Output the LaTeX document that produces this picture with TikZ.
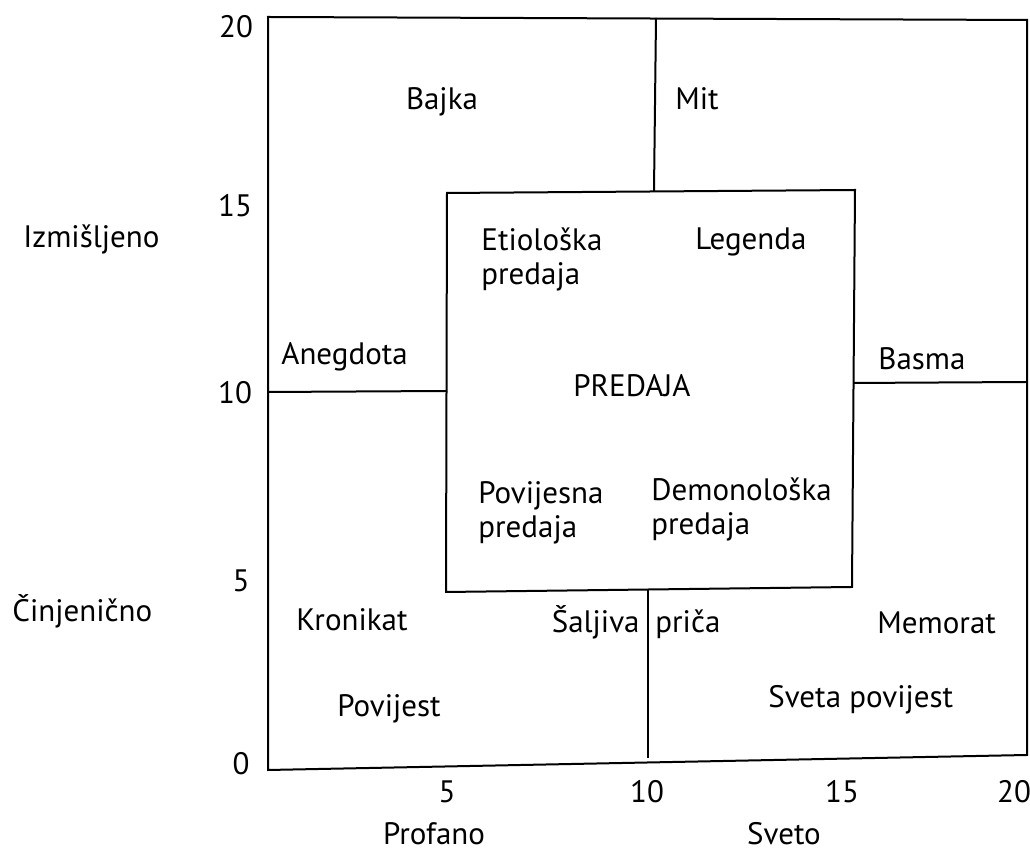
\documentclass[tikz,border=0pt]{standalone}
\usepackage{fontspec}
\setmainfont{PT Sans}
\tikzset{
  frame/.style={line width=1pt, line join=miter},
  lbl/.style={anchor=base west, inner sep=0pt, font=\fontsize{15.5}{16}\selectfont},
  num/.style={anchor=base, inner sep=0pt, font=\fontsize{15.5}{16}\selectfont}
}
\begin{document}
\begin{tikzpicture}[x=0.5pt, y=-0.5pt]
  \useasboundingbox (0,0) rectangle (1030,854);

  % outer frame and the four fields
  \draw[frame] (268,17) -- (1027,20) -- (1027,755) -- (268,770) -- cycle;
  \draw[frame] (447,193) -- (855,190) -- (852,587) -- (446,592) -- cycle;
  \draw[frame] (656,18) -- (654,191);
  \draw[frame] (648,589) -- (648,758);
  \draw[frame] (268,392) -- (447,391);
  \draw[frame] (853,383) -- (1027,382);

  % axis numbers
  \node[num] (y20) at (236,38) {20};
  \node[num] (y15) at (235,217) {15};
  \node[num] (y10) at (235,404) {10};
  \node[num] (y5)  at (241,592) {5};
  \node[num] (y0)  at (241,775) {0};
  \node[num] (x5)  at (447,803) {5};
  \node[num] (x10) at (647,803) {10};
  \node[num] (x15) at (842,803) {15};
  \node[num] (x20) at (1014,803) {20};

  % axis names
  \node[lbl] (izm) at (23,248) {Izmišljeno};
  \node[lbl] (cin) at (12,622) {Činjenično};
  \node[num] (prof) at (434,845) {Profano};
  \node[num] (svet) at (784,845) {Sveto};

  % genres (two-line labels sit on the baseline of their last line)
  \node[num] (bajka) at (442,110) {Bajka};
  \node[lbl] (mit) at (675,110) {Mit};
  \node[lbl, align=left] (etio) at (481,285) {Etiološka\\[1pt]predaja};
  \node[lbl] (leg) at (695,250) {Legenda};
  \node[lbl] (aneg) at (281,365) {Anegdota};
  \node[num] (pred) at (632,397) {PREDAJA};
  \node[lbl] (basma) at (878,370) {Basma};
  \node[lbl, align=left] (povp) at (478,538) {Povijesna\\[1pt]predaja};
  \node[lbl, align=left] (demp) at (651,535) {Demonološka\\[1pt]predaja};
  \node[lbl] (kron) at (296,631) {Kronikat};
  \node[anchor=base east, inner sep=0pt, font=\fontsize{15.5}{16}\selectfont] (salj) at (640,633) {Šaljiva};
  \node[lbl] (prica) at (655,633) {priča};
  \node[lbl] (mem) at (877,634) {Memorat};
  \node[lbl] (pov) at (337,717) {Povijest};
  \node[lbl] (svpov) at (768,708) {Sveta povijest};
\end{tikzpicture}
\end{document}
